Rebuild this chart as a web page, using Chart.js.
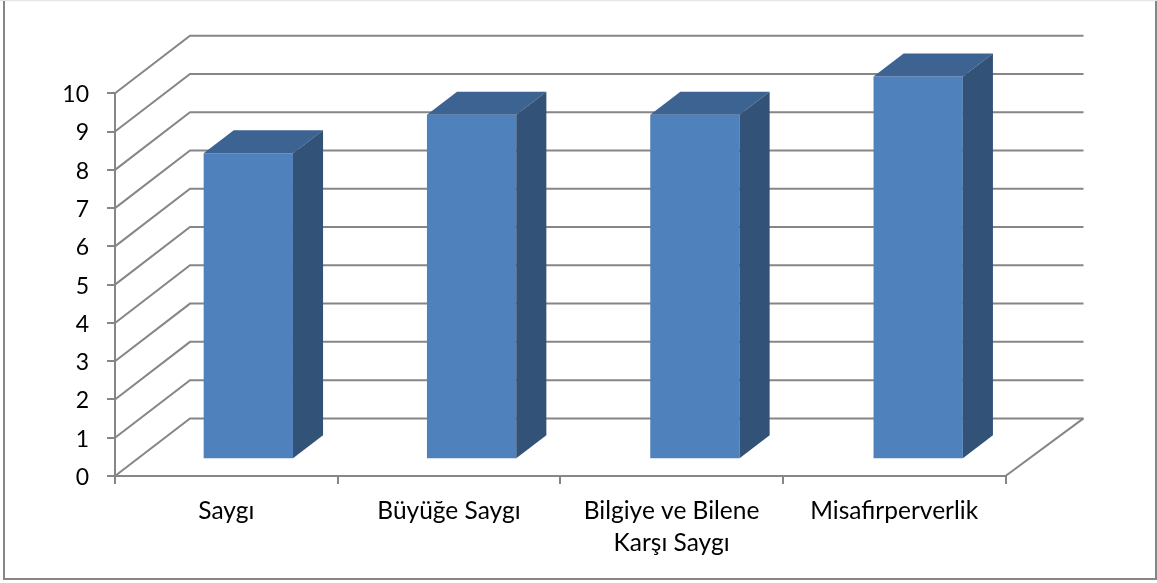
<!DOCTYPE html>
<html>
<head>
<meta charset="utf-8">
<title>Chart</title>
<script src="https://cdn.jsdelivr.net/npm/chart.js@4"></script>
<style>
    html, body { margin: 0; padding: 0; background: #fff; }
    canvas { display: block; }
</style>
</head>
<body>
<canvas id="chart" width="1157" height="583"></canvas>
<script>
    const categories = [
        'Saygı',
        'Büyüğe Saygı',
        ['Bilgiye ve Bilene', 'Karşı Saygı'],
        'Misafirperverlik'
    ];
    const values = [8, 9, 9, 10];
    const yTicks = [0, 1, 2, 3, 4, 5, 6, 7, 8, 9, 10];

    const gridColor = '#868686';
    const wall = { dx: 75, dy: -57.6 };     // front axis to back wall
    const barShift = { dx: 22, dy: -16.7 }; // bars stand inside the floor
    const barSpread = 1.003;                // bars sit a bit wider apart than the axis ticks
    const barDepth = { dx: 30, dy: -23 };

    // 3d look: walls behind the bars, top and side faces on each bar
    const box3d = {
        id: 'box3d',
        beforeDraw(chart) {
            const ctx = chart.ctx;
            ctx.save();
            ctx.fillStyle = '#fff';
            ctx.fillRect(0, 0, chart.width, chart.height);
            ctx.strokeStyle = '#e6e6e6';
            ctx.lineWidth = 1.5;
            ctx.beginPath();
            ctx.moveTo(0, 0.5);
            ctx.lineTo(chart.width, 0.5);
            ctx.stroke();
            ctx.strokeStyle = gridColor;
            ctx.lineWidth = 2;
            ctx.beginPath();
            ctx.moveTo(4, 1);
            ctx.lineTo(4, 579);
            ctx.lineTo(1156, 579);
            ctx.lineTo(1156, 1);
            ctx.stroke();
            ctx.restore();
        },
        beforeDatasetsDraw(chart) {
            const ctx = chart.ctx;
            const area = chart.chartArea;
            const y = chart.scales.y;
            ctx.save();
            ctx.strokeStyle = gridColor;
            ctx.lineWidth = 2;
            yTicks.forEach(function (t) {
                const py = y.getPixelForValue(t);
                ctx.beginPath();
                ctx.moveTo(area.left, py);
                ctx.lineTo(area.left + wall.dx, py + wall.dy);
                ctx.lineTo(area.right + wall.dx + 3, py + wall.dy);
                ctx.stroke();
            });
            ctx.beginPath();
            ctx.moveTo(area.right, area.bottom);
            ctx.lineTo(area.right + wall.dx + 3, area.bottom + wall.dy);
            ctx.stroke();
            ctx.restore();

            // spread around the first bar, then move everything onto the floor
            const first = chart.getDatasetMeta(0).data[0].x;
            ctx.save();
            ctx.translate(barShift.dx + first, barShift.dy);
            ctx.scale(barSpread, 1);
            ctx.translate(-first, 0);
        },
        afterDatasetDraw(chart, args) {
            const ctx = chart.ctx;
            args.meta.data.forEach(function (bar) {
                const left = bar.x - bar.width / 2;
                const right = bar.x + bar.width / 2;
                ctx.fillStyle = '#3c6391';
                ctx.beginPath();
                ctx.moveTo(left, bar.y);
                ctx.lineTo(left + barDepth.dx, bar.y + barDepth.dy);
                ctx.lineTo(right + barDepth.dx, bar.y + barDepth.dy);
                ctx.lineTo(right, bar.y);
                ctx.closePath();
                ctx.fill();
                ctx.fillStyle = '#325278';
                ctx.beginPath();
                ctx.moveTo(right, bar.y);
                ctx.lineTo(right + barDepth.dx, bar.y + barDepth.dy);
                ctx.lineTo(right + barDepth.dx, bar.base + barDepth.dy);
                ctx.lineTo(right, bar.base);
                ctx.closePath();
                ctx.fill();
            });
        },
        afterDatasetsDraw(chart) {
            chart.ctx.restore();
        }
    };

    new Chart(document.getElementById('chart'), {
        type: 'bar',
        data: {
            labels: categories,
            datasets: [{
                data: values,
                backgroundColor: '#4f81bd',
                borderWidth: 0,
                clip: false,
                categoryPercentage: 0.4,
                barPercentage: 1
            }]
        },
        options: {
            responsive: false,
            animation: false,
            layout: { padding: { left: 0, right: 151.5, top: 93.3, bottom: 0 } },
            plugins: {
                legend: { display: false },
                title: { display: false },
                tooltip: { enabled: false }
            },
            scales: {
                x: {
                    afterFit(scale) { scale.height = 107; },
                    grid: {
                        drawOnChartArea: false,
                        color: gridColor,
                        lineWidth: 2,
                        tickLength: 8
                    },
                    border: { color: gridColor, width: 2 },
                    ticks: {
                        color: '#000',
                        font: { family: 'Lato', size: 24.5, lineHeight: 1.3 },
                        maxRotation: 0,
                        autoSkip: false,
                        padding: 11
                    }
                },
                y: {
                    min: 0,
                    max: 10,
                    afterFit(scale) { scale.width = 115; },
                    afterBuildTicks(scale) { scale.ticks = yTicks.map(function (v) { return { value: v }; }); },
                    grid: {
                        drawOnChartArea: false,
                        color: gridColor,
                        lineWidth: 2,
                        tickLength: 8
                    },
                    border: { color: gridColor, width: 2 },
                    ticks: {
                        color: '#000',
                        font: { family: 'Lato', size: 23 },
                        padding: 18,
                        labelOffset: 1.5
                    }
                }
            }
        },
        plugins: [box3d]
    });
</script>
</body>
</html>
